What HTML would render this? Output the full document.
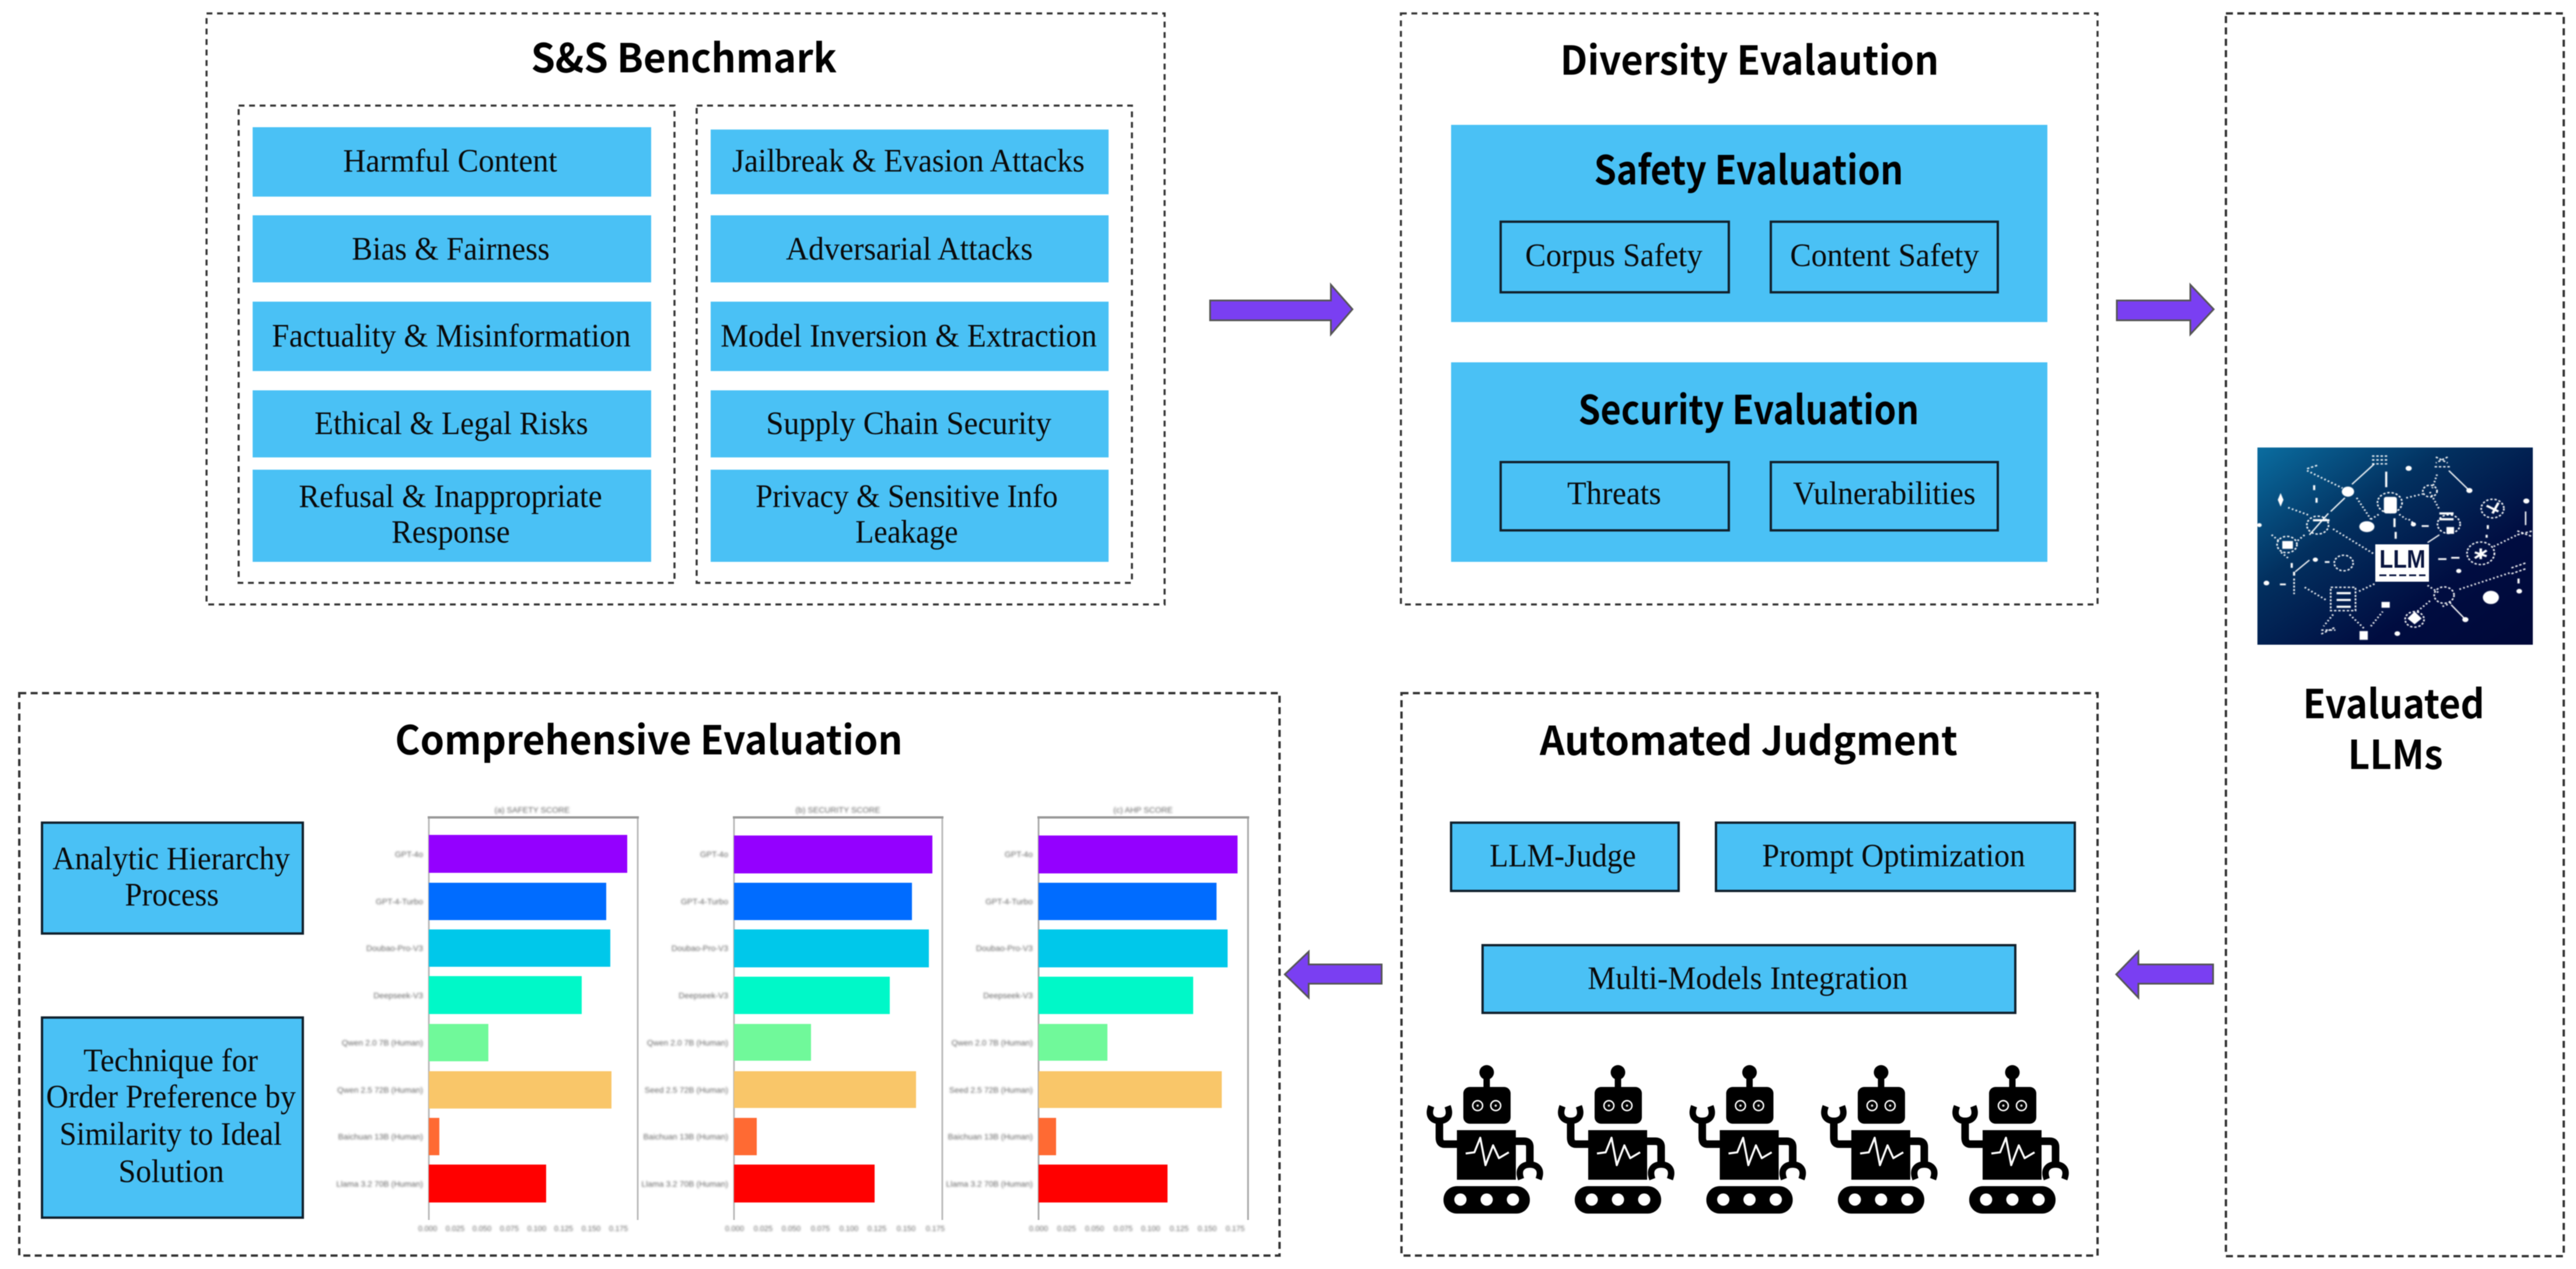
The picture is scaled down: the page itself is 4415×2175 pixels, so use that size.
<!DOCTYPE html>
<html><head><meta charset="utf-8"><style>
html,body{margin:0;padding:0;background:#fff;width:4415px;height:2175px;overflow:hidden}
svg{display:block;filter:blur(0.7px)}
.s{font-family:"Liberation Serif","Noto Serif CJK SC",serif;font-size:56px;fill:#0a0a0a}
.t{font-family:"Noto Sans CJK SC","Liberation Sans",sans-serif;font-weight:700;font-size:68px;fill:#000}
.d{fill:none;stroke:#333;stroke-width:4;stroke-dasharray:12 7.5}
.d2{fill:none;stroke:#333;stroke-width:3.5;stroke-dasharray:10 8}
.b{fill:#4ac1f5}
.k{fill:#4ac1f5;stroke:#10202c;stroke-width:4}
.a{fill:#7a3ff2;stroke:#555;stroke-width:3}
.l{font-family:"Liberation Sans",sans-serif;font-size:14px;fill:#666}
</style></head><body>
<svg width="4415" height="2175" viewBox="0 0 4415 2175" xmlns="http://www.w3.org/2000/svg">
<defs>
<linearGradient id="g" x1="0" y1="0" x2="1" y2="1"><stop offset="0" stop-color="#0a6da0"/><stop offset=".35" stop-color="#02305f"/><stop offset=".7" stop-color="#000c40"/><stop offset="1" stop-color="#000838"/></linearGradient>
<filter id="bl" x="-5%" y="-5%" width="110%" height="110%"><feGaussianBlur stdDeviation="1.5"/></filter>
<filter id="bl2" x="-2%" y="-2%" width="104%" height="104%"><feGaussianBlur stdDeviation="1.2"/></filter>
<g id="robot">
<circle cx="0" cy="1838" r="12.5"/><rect x="-5.5" y="1846" width="11" height="20"/>
<rect x="-40" y="1863" width="81" height="63" rx="11"/>
<circle cx="-15.5" cy="1895" r="8.5" fill="none" stroke="#fff" stroke-width="2.5"/><circle cx="-15.5" cy="1895" r="2" fill="#ddd"/>
<circle cx="15.5" cy="1895" r="8.5" fill="none" stroke="#fff" stroke-width="2.5"/><circle cx="15.5" cy="1895" r="2" fill="#ddd"/>
<rect x="-51" y="1937" width="101" height="85"/>
<polyline points="-36,1977 -21,1975 -11,1950 -2,1997 11,1963 21,1985 38,1975" fill="none" stroke="#fff" stroke-width="3.5" stroke-linejoin="round"/>
<path d="M-51,1961 L-72,1961 Q-81,1961 -81,1950 L-81,1920" fill="none" stroke="#000" stroke-width="13"/>
<path d="M-95,1896 C-102,1914 -92,1921 -81,1921 C-70,1921 -60,1914 -67,1896" fill="none" stroke="#000" stroke-width="11"/>
<path d="M50,1956 L64,1956 Q74,1956 74,1966 L74,1996" fill="none" stroke="#000" stroke-width="13"/>
<path d="M59,2021 C52,2003 63,1996 74,1996 C85,1996 96,2003 89,2021" fill="none" stroke="#000" stroke-width="11"/>
<rect x="-74" y="2033" width="148" height="47" rx="23"/>
<circle cx="-45" cy="2056" r="10.5" fill="#fff"/><circle cx="0" cy="2056" r="10.5" fill="#fff"/><circle cx="45" cy="2056" r="10.5" fill="#fff"/>
</g>
</defs>

<!-- dashed containers -->
<rect class="d2" x="354" y="23" width="1642" height="1013"/>
<rect class="d2" x="409" y="181" width="747" height="818"/>
<rect class="d2" x="1194" y="181" width="746" height="818"/>
<rect class="d2" x="2401" y="23" width="1194" height="1013"/>
<rect class="d" x="3815" y="23" width="579" height="2130"/>
<rect class="d" x="33" y="1188" width="2160" height="964"/>
<rect class="d" x="2402" y="1188" width="1193" height="964"/>

<!-- S&S Benchmark -->
<text class="t" x="910" y="124" textLength="524" lengthAdjust="spacingAndGlyphs">S&amp;S Benchmark</text>
<rect class="b" x="433" y="218" width="683" height="119"/>
<rect class="b" x="433" y="369" width="683" height="115"/>
<rect class="b" x="433" y="517" width="683" height="119"/>
<rect class="b" x="433" y="669" width="683" height="115"/>
<rect class="b" x="433" y="805" width="683" height="158"/>
<rect class="b" x="1218" y="222" width="682" height="111"/>
<rect class="b" x="1218" y="369" width="682" height="115"/>
<rect class="b" x="1218" y="517" width="682" height="119"/>
<rect class="b" x="1218" y="669" width="682" height="115"/>
<rect class="b" x="1218" y="805" width="682" height="158"/>
<text class="s" x="588" y="294" textLength="367" lengthAdjust="spacingAndGlyphs">Harmful Content</text>
<text class="s" x="603" y="445" textLength="339" lengthAdjust="spacingAndGlyphs">Bias &amp; Fairness</text>
<text class="s" x="466" y="594" textLength="615" lengthAdjust="spacingAndGlyphs">Factuality &amp; Misinformation</text>
<text class="s" x="539" y="744" textLength="469" lengthAdjust="spacingAndGlyphs">Ethical &amp; Legal Risks</text>
<text class="s" x="512" y="869" textLength="520" lengthAdjust="spacingAndGlyphs">Refusal &amp; Inappropriate</text>
<text class="s" x="671" y="930" textLength="203" lengthAdjust="spacingAndGlyphs">Response</text>
<text class="s" x="1255" y="294" textLength="604" lengthAdjust="spacingAndGlyphs">Jailbreak &amp; Evasion Attacks</text>
<text class="s" x="1347" y="445" textLength="423" lengthAdjust="spacingAndGlyphs">Adversarial Attacks</text>
<text class="s" x="1235" y="594" textLength="645" lengthAdjust="spacingAndGlyphs">Model Inversion &amp; Extraction</text>
<text class="s" x="1313" y="744" textLength="489" lengthAdjust="spacingAndGlyphs">Supply Chain Security</text>
<text class="s" x="1295" y="869" textLength="518" lengthAdjust="spacingAndGlyphs">Privacy &amp; Sensitive Info</text>
<text class="s" x="1466" y="930" textLength="176" lengthAdjust="spacingAndGlyphs">Leakage</text>

<!-- Diversity -->
<text class="t" x="2674" y="128" textLength="649" lengthAdjust="spacingAndGlyphs">Diversity Evalaution</text>
<rect class="b" x="2487" y="214" width="1022" height="338"/>
<rect class="b" x="2487" y="621" width="1022" height="342"/>
<text class="t" x="2732" y="316" textLength="530" lengthAdjust="spacingAndGlyphs">Safety Evaluation</text>
<text class="t" x="2705" y="727" textLength="584" lengthAdjust="spacingAndGlyphs">Security Evaluation</text>
<rect class="k" x="2572" y="380" width="391" height="121"/>
<rect class="k" x="3035" y="380" width="389" height="121"/>
<rect class="k" x="2572" y="792" width="391" height="117"/>
<rect class="k" x="3035" y="792" width="389" height="117"/>
<text class="s" x="2614" y="456" textLength="304" lengthAdjust="spacingAndGlyphs">Corpus Safety</text>
<text class="s" x="3068" y="456" textLength="324" lengthAdjust="spacingAndGlyphs">Content Safety</text>
<text class="s" x="2686" y="864" textLength="161" lengthAdjust="spacingAndGlyphs">Threats</text>
<text class="s" x="3073" y="864" textLength="313" lengthAdjust="spacingAndGlyphs">Vulnerabilities</text>

<!-- Arrows -->
<polygon class="a" points="2074,515 2281,515 2281,488 2318,530 2281,573 2281,549 2074,549"/>
<polygon class="a" points="3628,515 3754,515 3754,488 3794,530 3754,573 3754,549 3628,549"/>
<polygon class="a" points="2368,1653 2243,1653 2243,1631 2202,1670 2243,1710 2243,1686 2368,1686"/>
<polygon class="a" points="3793,1653 3665,1653 3665,1631 3627,1670 3665,1710 3665,1686 3793,1686"/>

<!-- Automated Judgment -->
<text class="t" x="2639" y="1294" textLength="716" lengthAdjust="spacingAndGlyphs">Automated Judgment</text>
<rect class="k" x="2487" y="1410" width="390" height="117"/>
<rect class="k" x="2941" y="1410" width="615" height="117"/>
<rect class="k" x="2541" y="1620" width="913" height="116"/>
<text class="s" x="2553" y="1485" textLength="251" lengthAdjust="spacingAndGlyphs">LLM-Judge</text>
<text class="s" x="3020" y="1485" textLength="451" lengthAdjust="spacingAndGlyphs">Prompt Optimization</text>
<text class="s" x="2721" y="1695" textLength="549" lengthAdjust="spacingAndGlyphs">Multi-Models Integration</text>
<use href="#robot" transform="translate(2548,0)"/>
<use href="#robot" transform="translate(2773,0)"/>
<use href="#robot" transform="translate(2998.5,0)"/>
<use href="#robot" transform="translate(3224,0)"/>
<use href="#robot" transform="translate(3449,0)"/>

<!-- Comprehensive -->
<text class="t" x="677" y="1293" textLength="870" lengthAdjust="spacingAndGlyphs">Comprehensive Evaluation</text>
<rect class="k" x="72" y="1410" width="447" height="190"/>
<rect class="k" x="72" y="1744" width="447" height="343"/>
<text class="s" x="90" y="1490" textLength="407" lengthAdjust="spacingAndGlyphs">Analytic Hierarchy</text>
<text class="s" x="214" y="1552" textLength="161" lengthAdjust="spacingAndGlyphs">Process</text>
<text class="s" x="143" y="1836" textLength="299" lengthAdjust="spacingAndGlyphs">Technique for</text>
<text class="s" x="79" y="1898" textLength="428" lengthAdjust="spacingAndGlyphs">Order Preference by</text>
<text class="s" x="102" y="1962" textLength="381" lengthAdjust="spacingAndGlyphs">Similarity to Ideal</text>
<text class="s" x="203" y="2026" textLength="181" lengthAdjust="spacingAndGlyphs">Solution</text>

<!-- Chart 1 -->
<g>
<path d="M735,2091V1401H1093V2091" fill="none" stroke="#bbb" stroke-width="3"/><path d="M733,1401H1095" stroke="#999" stroke-width="4"/>
<rect x="735" y="1431" width="340" height="65" fill="#9400ff"/>
<rect x="735" y="1513" width="304" height="64" fill="#006cff"/>
<rect x="735" y="1593" width="311" height="64" fill="#00c8ea"/>
<rect x="735" y="1673" width="262" height="65" fill="#00f8c8"/>
<rect x="735" y="1755" width="102" height="64" fill="#70f99a"/>
<rect x="735" y="1836" width="313" height="64" fill="#f9c669"/>
<rect x="735" y="1916" width="18" height="64" fill="#ff6a33"/>
<rect x="735" y="1996" width="201" height="65" fill="#ff0000"/>
<g filter="url(#bl)" class="l" text-anchor="end">
<text x="912" y="1393" style="text-anchor:middle">(a) SAFETY SCORE</text>
<text x="725" y="1469">GPT-4o</text><text x="725" y="1550">GPT-4-Turbo</text><text x="725" y="1630">Doubao-Pro-V3</text><text x="725" y="1711">Deepseek-V3</text><text x="725" y="1792">Qwen 2.0 7B (Human)</text><text x="725" y="1873">Qwen 2.5 72B (Human)</text><text x="725" y="1953">Baichuan 13B (Human)</text><text x="725" y="2034">Llama 3.2 70B (Human)</text>
</g>
<g filter="url(#bl)" class="l" text-anchor="middle" style="font-size:13px">
<text x="733" y="2110">0.000</text><text x="780" y="2110">0.025</text><text x="826" y="2110">0.050</text><text x="873" y="2110">0.075</text><text x="920" y="2110">0.100</text><text x="966" y="2110">0.125</text><text x="1013" y="2110">0.150</text><text x="1060" y="2110">0.175</text>
</g>
</g>
<!-- Chart 2 -->
<g>
<path d="M1258,2091V1401H1615V2091" fill="none" stroke="#bbb" stroke-width="3"/><path d="M1256,1401H1617" stroke="#999" stroke-width="4"/>
<rect x="1258" y="1432" width="340" height="65" fill="#9400ff"/>
<rect x="1258" y="1513" width="305" height="64" fill="#006cff"/>
<rect x="1258" y="1593" width="334" height="65" fill="#00c8ea"/>
<rect x="1258" y="1674" width="267" height="64" fill="#00f8c8"/>
<rect x="1258" y="1755" width="132" height="63" fill="#70f99a"/>
<rect x="1258" y="1836" width="312" height="63" fill="#f9c669"/>
<rect x="1258" y="1916" width="39" height="64" fill="#ff6a33"/>
<rect x="1258" y="1996" width="241" height="65" fill="#ff0000"/>
<g filter="url(#bl)" class="l" text-anchor="end">
<text x="1436" y="1393" style="text-anchor:middle">(b) SECURITY SCORE</text>
<text x="1248" y="1469">GPT-4o</text><text x="1248" y="1550">GPT-4-Turbo</text><text x="1248" y="1630">Doubao-Pro-V3</text><text x="1248" y="1711">Deepseek-V3</text><text x="1248" y="1792">Qwen 2.0 7B (Human)</text><text x="1248" y="1873">Seed 2.5 72B (Human)</text><text x="1248" y="1953">Baichuan 13B (Human)</text><text x="1248" y="2034">Llama 3.2 70B (Human)</text>
</g>
<g filter="url(#bl)" class="l" text-anchor="middle" style="font-size:13px">
<text x="1259" y="2110">0.000</text><text x="1308" y="2110">0.025</text><text x="1356" y="2110">0.050</text><text x="1406" y="2110">0.075</text><text x="1455" y="2110">0.100</text><text x="1503" y="2110">0.125</text><text x="1553" y="2110">0.150</text><text x="1603" y="2110">0.175</text>
</g>
</g>
<!-- Chart 3 -->
<g>
<path d="M1780,2091V1401H2139V2091" fill="none" stroke="#aaa" stroke-width="3"/><path d="M1778,1401H2141" stroke="#999" stroke-width="4"/>
<rect x="1780" y="1432" width="341" height="65" fill="#9400ff"/>
<rect x="1780" y="1513" width="305" height="64" fill="#006cff"/>
<rect x="1780" y="1593" width="324" height="65" fill="#00c8ea"/>
<rect x="1780" y="1674" width="265" height="64" fill="#00f8c8"/>
<rect x="1780" y="1755" width="118" height="63" fill="#70f99a"/>
<rect x="1780" y="1836" width="314" height="63" fill="#f9c669"/>
<rect x="1780" y="1916" width="30" height="64" fill="#ff6a33"/>
<rect x="1780" y="1996" width="221" height="65" fill="#ff0000"/>
<g filter="url(#bl)" class="l" text-anchor="end">
<text x="1959" y="1393" style="text-anchor:middle">(c) AHP SCORE</text>
<text x="1770" y="1469">GPT-4o</text><text x="1770" y="1550">GPT-4-Turbo</text><text x="1770" y="1630">Doubao-Pro-V3</text><text x="1770" y="1711">Deepseek-V3</text><text x="1770" y="1792">Qwen 2.0 7B (Human)</text><text x="1770" y="1873">Seed 2.5 72B (Human)</text><text x="1770" y="1953">Baichuan 13B (Human)</text><text x="1770" y="2034">Llama 3.2 70B (Human)</text>
</g>
<g filter="url(#bl)" class="l" text-anchor="middle" style="font-size:13px">
<text x="1780" y="2110">0.000</text><text x="1828" y="2110">0.025</text><text x="1876" y="2110">0.050</text><text x="1925" y="2110">0.075</text><text x="1972" y="2110">0.100</text><text x="2021" y="2110">0.125</text><text x="2069" y="2110">0.150</text><text x="2117" y="2110">0.175</text>
</g>
</g>

<!-- LLM image -->
<rect x="3869" y="767" width="472" height="338" fill="url(#g)"/>
<g transform="translate(3780,720) scale(0.4049,0.3333)" filter="url(#bl2)" fill="#fff" stroke="none">
<g fill="none" stroke="#fff" stroke-width="8" stroke-dasharray="7 10">
<path d="M540,560L715,690M430,260L580,350M350,450L440,490M640,400L700,510M1075,870L1290,785M1220,650L1320,590M420,860L510,925M650,880L720,840M850,400L920,380M980,280L960,350M950,370L990,460M610,1000L670,1070M700,1060L750,985M950,930L880,1000M540,1000L500,1060M1040,940L1000,960M940,850L990,890M860,510L880,530M820,485L850,510M700,510L740,480M280,590L310,620M390,620L420,590M320,680L350,710"/>
</g>
<g fill="none" stroke="#fff" stroke-width="6">
<path d="M620,330L715,225M1030,260L1115,360M1040,950L1100,1025M520,480L440,590M380,780L440,720M940,630L990,590M1355,470V540M590,400L530,470"/>
</g>
<g fill="none" stroke="#fff" stroke-width="9">
<path d="M805,575V610M765,265V345M460,335V360M470,400V425M985,715H1020M1040,708H1075M1195,540V560M1190,590V605M915,545H945M365,735V760M375,780V800M315,845H340M1325,815V840M800,505V550M505,730H525"/>
</g>
<circle cx="603" cy="368" r="26"/><circle cx="1117" cy="362" r="13"/><circle cx="1100" cy="1026" r="13"/><circle cx="1208" cy="912" r="34"/><circle cx="1328" cy="880" r="12"/><circle cx="258" cy="838" r="12"/><circle cx="465" cy="718" r="11"/><circle cx="880" cy="536" r="11"/><circle cx="860" cy="248" r="13"/><circle cx="1358" cy="416" r="13"/><circle cx="812" cy="1098" r="12"/><circle cx="1072" cy="776" r="11"/><circle cx="228" cy="540" r="10"/>
<ellipse cx="683" cy="548" rx="32" ry="28"/>
<path d="M318,375L330,410L318,445L306,410Z"/>
<path d="M885,985L915,1020L885,1050L855,1020Z"/>
<rect x="325" y="622" width="45" height="40"/>
<rect x="1020" y="550" width="32" height="35"/>
<rect x="652" y="1085" width="35" height="45"/>
<rect x="755" y="395" width="55" height="85" rx="10"/>
<rect x="745" y="935" width="35" height="30"/>
<g fill="none" stroke="#fff" stroke-width="7" stroke-dasharray="10 8">
<circle cx="780" cy="425" r="52"/><circle cx="475" cy="540" r="46"/><circle cx="1030" cy="535" r="48"/><circle cx="950" cy="365" r="30"/><circle cx="585" cy="735" r="40"/><circle cx="1165" cy="685" r="58"/><circle cx="1215" cy="455" r="48"/><circle cx="1010" cy="900" r="42"/><circle cx="885" cy="1025" r="40"/><circle cx="345" cy="640" r="42"/>
<rect x="530" y="860" width="105" height="120"/>
<path d="M705,185H775M705,205H775M705,225H775M430,250L480,230M970,240H1040M975,190L1025,220M1025,190L975,220M490,1080H550M490,1100L550,1065M375,815V895M1295,760L1355,735M1295,790L1355,765M1320,570L1385,600M1320,590L1385,570"/>
</g>
<g fill="none" stroke="#fff" stroke-width="11">
<path d="M990,480H1050M990,510H1050M1140,680L1190,700M1190,670L1140,710M1165,660V715M1190,440L1240,470M1215,480L1240,425M555,890H615M555,925H615M555,960H615M455,515H525"/>
</g>
</g>
<rect x="4071" y="933" width="92" height="64" fill="#fff"/>
<text x="4078" y="973" textLength="79" lengthAdjust="spacingAndGlyphs" style="font-family:'Liberation Sans',sans-serif;font-weight:700;font-size:44px;fill:#0a1640">LLM</text>
<path d="M4078,986H4157" stroke="#0a1640" stroke-width="3" stroke-dasharray="12 5"/>

<text class="t" x="3947" y="1231" textLength="311" lengthAdjust="spacingAndGlyphs">Evaluated</text>
<text class="t" x="4024" y="1318" textLength="163" lengthAdjust="spacingAndGlyphs">LLMs</text>
</svg>
</body></html>
